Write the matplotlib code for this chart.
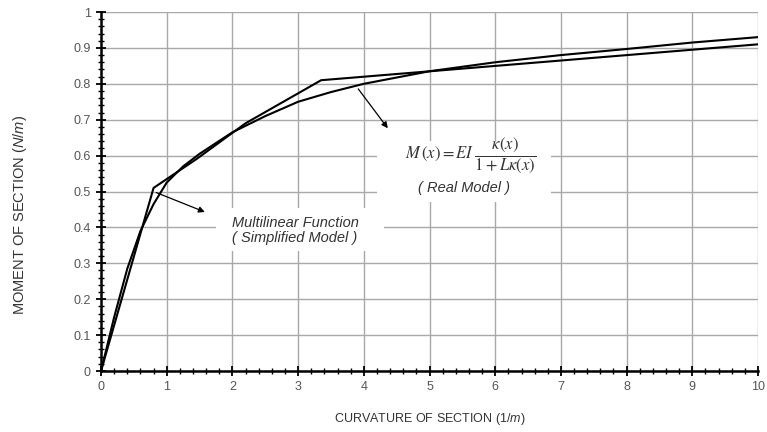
import numpy as np
import matplotlib.pyplot as plt
from matplotlib.ticker import MultipleLocator

# curva real
real_k = [0, 0.2, 0.4, 0.6, 0.8, 1.0, 1.25, 1.5, 2.0, 2.5, 3.0, 3.5, 4.0,
          5.0, 6.0, 7.0, 8.0, 9.0, 10.0]
real_m = [0, 0.15, 0.285, 0.39, 0.465, 0.525, 0.57, 0.605, 0.665, 0.71, 0.75,
          0.777, 0.80, 0.835, 0.86, 0.88, 0.897, 0.915, 0.93]

# função multilinear
multi_k = [0, 0.8, 1.45, 2.2, 3.35, 10.0]
multi_m = [0, 0.51, 0.59, 0.69, 0.81, 0.91]

plt.rcParams['font.family'] = ['Liberation Sans', 'DejaVu Sans']
plt.rcParams['mathtext.fontset'] = 'custom'
plt.rcParams['mathtext.it'] = 'Liberation Sans:italic'
plt.rcParams['mathtext.rm'] = 'Liberation Sans'

fig = plt.figure(figsize=(7.67, 4.32), dpi=100)
ax = fig.add_axes([0.1317, 0.1412, 0.8566, 0.831])

ax.plot(real_k, real_m, color='black', lw=1.5, zorder=3)
ax.plot(multi_k, multi_m, color='black', lw=1.5, zorder=3)

ax.set_xlim(0, 10)
ax.set_ylim(0, 1)
ax.xaxis.set_major_locator(MultipleLocator(1))
ax.xaxis.set_minor_locator(MultipleLocator(0.2))
ax.yaxis.set_minor_locator(MultipleLocator(0.02))
ax.set_yticks(np.arange(0, 1.01, 0.1))
ax.set_yticklabels(['0', '0.1', '0.2', '0.3', '0.4', '0.5', '0.6', '0.7', '0.8', '0.9', '1'])

ax.grid(which='major', color='#a8a8a8', lw=1.0)
ax.set_axisbelow(True)
for s in ['top', 'right']:
    ax.spines[s].set_visible(False)
for s in ['left', 'bottom']:
    ax.spines[s].set_linewidth(1.8)
ax.tick_params(which='major', direction='inout', length=7, width=1.3,
               labelsize=9, labelcolor='#555555', pad=4)
ax.tick_params(which='minor', direction='inout', length=4, width=1.0)

ax.set_xlabel('CURVATURE OF SECTION ' + r'$\mathit{(1/m)}$', fontsize=9,
              color='#333333', labelpad=13)
fig.text(20 / 767, 1 - 215 / 432, 'MOMENT OF SECTION ' + r'$\mathit{(N/m)}$',
         fontsize=10.5, color='#333333', rotation=90, ha='center', va='center')

# anotações
ax.annotate('', xy=(1.62, 0.44), xytext=(0.8, 0.5),
            arrowprops=dict(arrowstyle='-|>', color='black', lw=0.9,
                            mutation_scale=9), zorder=4)
ax.fill_between([1.75, 4.3], 0.335, 0.455, color='white', zorder=2, lw=0)
ax.text(2.0, 0.412, 'Multilinear Function', fontsize=10.5, style='italic',
        color='#333333', va='center', ha='left', zorder=3)
ax.text(2.0, 0.37, '( Simplified Model )', fontsize=10.5, style='italic',
        color='#333333', va='center', ha='left', zorder=3)

ax.annotate('', xy=(4.39, 0.67), xytext=(3.89, 0.792),
            arrowprops=dict(arrowstyle='-|>', color='black', lw=0.9,
                            mutation_scale=9), zorder=4)
ax.fill_between([4.2, 6.85], 0.47, 0.64, color='white', zorder=2, lw=0)
ax.text(5.62, 0.602, r'$M\,(x) = EI\;\dfrac{\kappa(x)}{1+L\kappa(x)}$',
        fontsize=12, ha='center', va='center', math_fontfamily='stix',
        color='#333333', zorder=3)
ax.text(5.52, 0.51, '( Real Model )', fontsize=10.5, style='italic',
        color='#333333', ha='center', va='center', zorder=3)

plt.savefig('out.png', dpi=100)
